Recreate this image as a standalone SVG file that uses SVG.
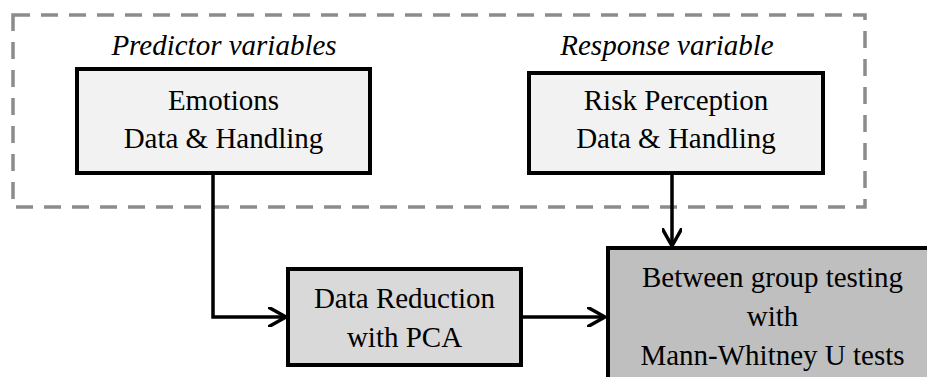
<svg xmlns="http://www.w3.org/2000/svg" width="927" height="377" viewBox="0 0 927 377">
<defs>
<marker id="chev" viewBox="0 0 20 20" refX="18" refY="10" markerWidth="20" markerHeight="20" markerUnits="userSpaceOnUse" orient="auto">
<path d="M1,0.5 L18,10 L1,19.5" fill="none" stroke="#000" stroke-width="3.5" stroke-linecap="round" stroke-linejoin="round"/>
</marker>
</defs>
<rect width="927" height="377" fill="#fff"/>
<g id="group-frame">
<rect x="13" y="15" width="852" height="192" fill="none" stroke="#8c8c8c" stroke-width="3.5" stroke-dasharray="17,11"/>
<text x="224" y="55" font-family="Liberation Serif" font-size="29" font-style="italic" text-anchor="middle">Predictor variables</text>
<text x="667" y="55" font-family="Liberation Serif" font-size="29" font-style="italic" text-anchor="middle">Response variable</text>
</g>
<g id="connectors" fill="none" stroke="#000" stroke-width="3.5">
<path d="M213,173 V317 H286" marker-end="url(#chev)"/>
<path d="M521,317 H605" marker-end="url(#chev)"/>
<path d="M672,173 V246" marker-end="url(#chev)"/>
</g>
<g id="node-emotions">
<rect x="77" y="69" width="293" height="104" fill="#f2f2f2" stroke="#000" stroke-width="4"/>
<text x="223.5" y="110" font-family="Liberation Serif" font-size="29" text-anchor="middle">Emotions</text>
<text x="223.5" y="148" font-family="Liberation Serif" font-size="29" text-anchor="middle">Data &amp; Handling</text>
</g>
<g id="node-risk">
<rect x="529" y="73" width="294" height="100" fill="#f2f2f2" stroke="#000" stroke-width="4"/>
<text x="676" y="110" font-family="Liberation Serif" font-size="29" text-anchor="middle">Risk Perception</text>
<text x="676" y="148" font-family="Liberation Serif" font-size="29" text-anchor="middle">Data &amp; Handling</text>
</g>
<g id="node-pca">
<rect x="288" y="269" width="233" height="96" fill="#d9d9d9" stroke="#000" stroke-width="4"/>
<text x="404.5" y="308" font-family="Liberation Serif" font-size="29" text-anchor="middle">Data Reduction</text>
<text x="404.5" y="347" font-family="Liberation Serif" font-size="29" text-anchor="middle">with PCA</text>
</g>
<g id="node-mann">
<rect x="608" y="248" width="340" height="150" fill="#bfbfbf" stroke="#000" stroke-width="4"/>
<text x="772.5" y="287" font-family="Liberation Serif" font-size="29" text-anchor="middle">Between group testing</text>
<text x="772.5" y="326" font-family="Liberation Serif" font-size="29" text-anchor="middle">with</text>
<text x="772.5" y="365" font-family="Liberation Serif" font-size="29" text-anchor="middle">Mann-Whitney U tests</text>
</g>
</svg>
